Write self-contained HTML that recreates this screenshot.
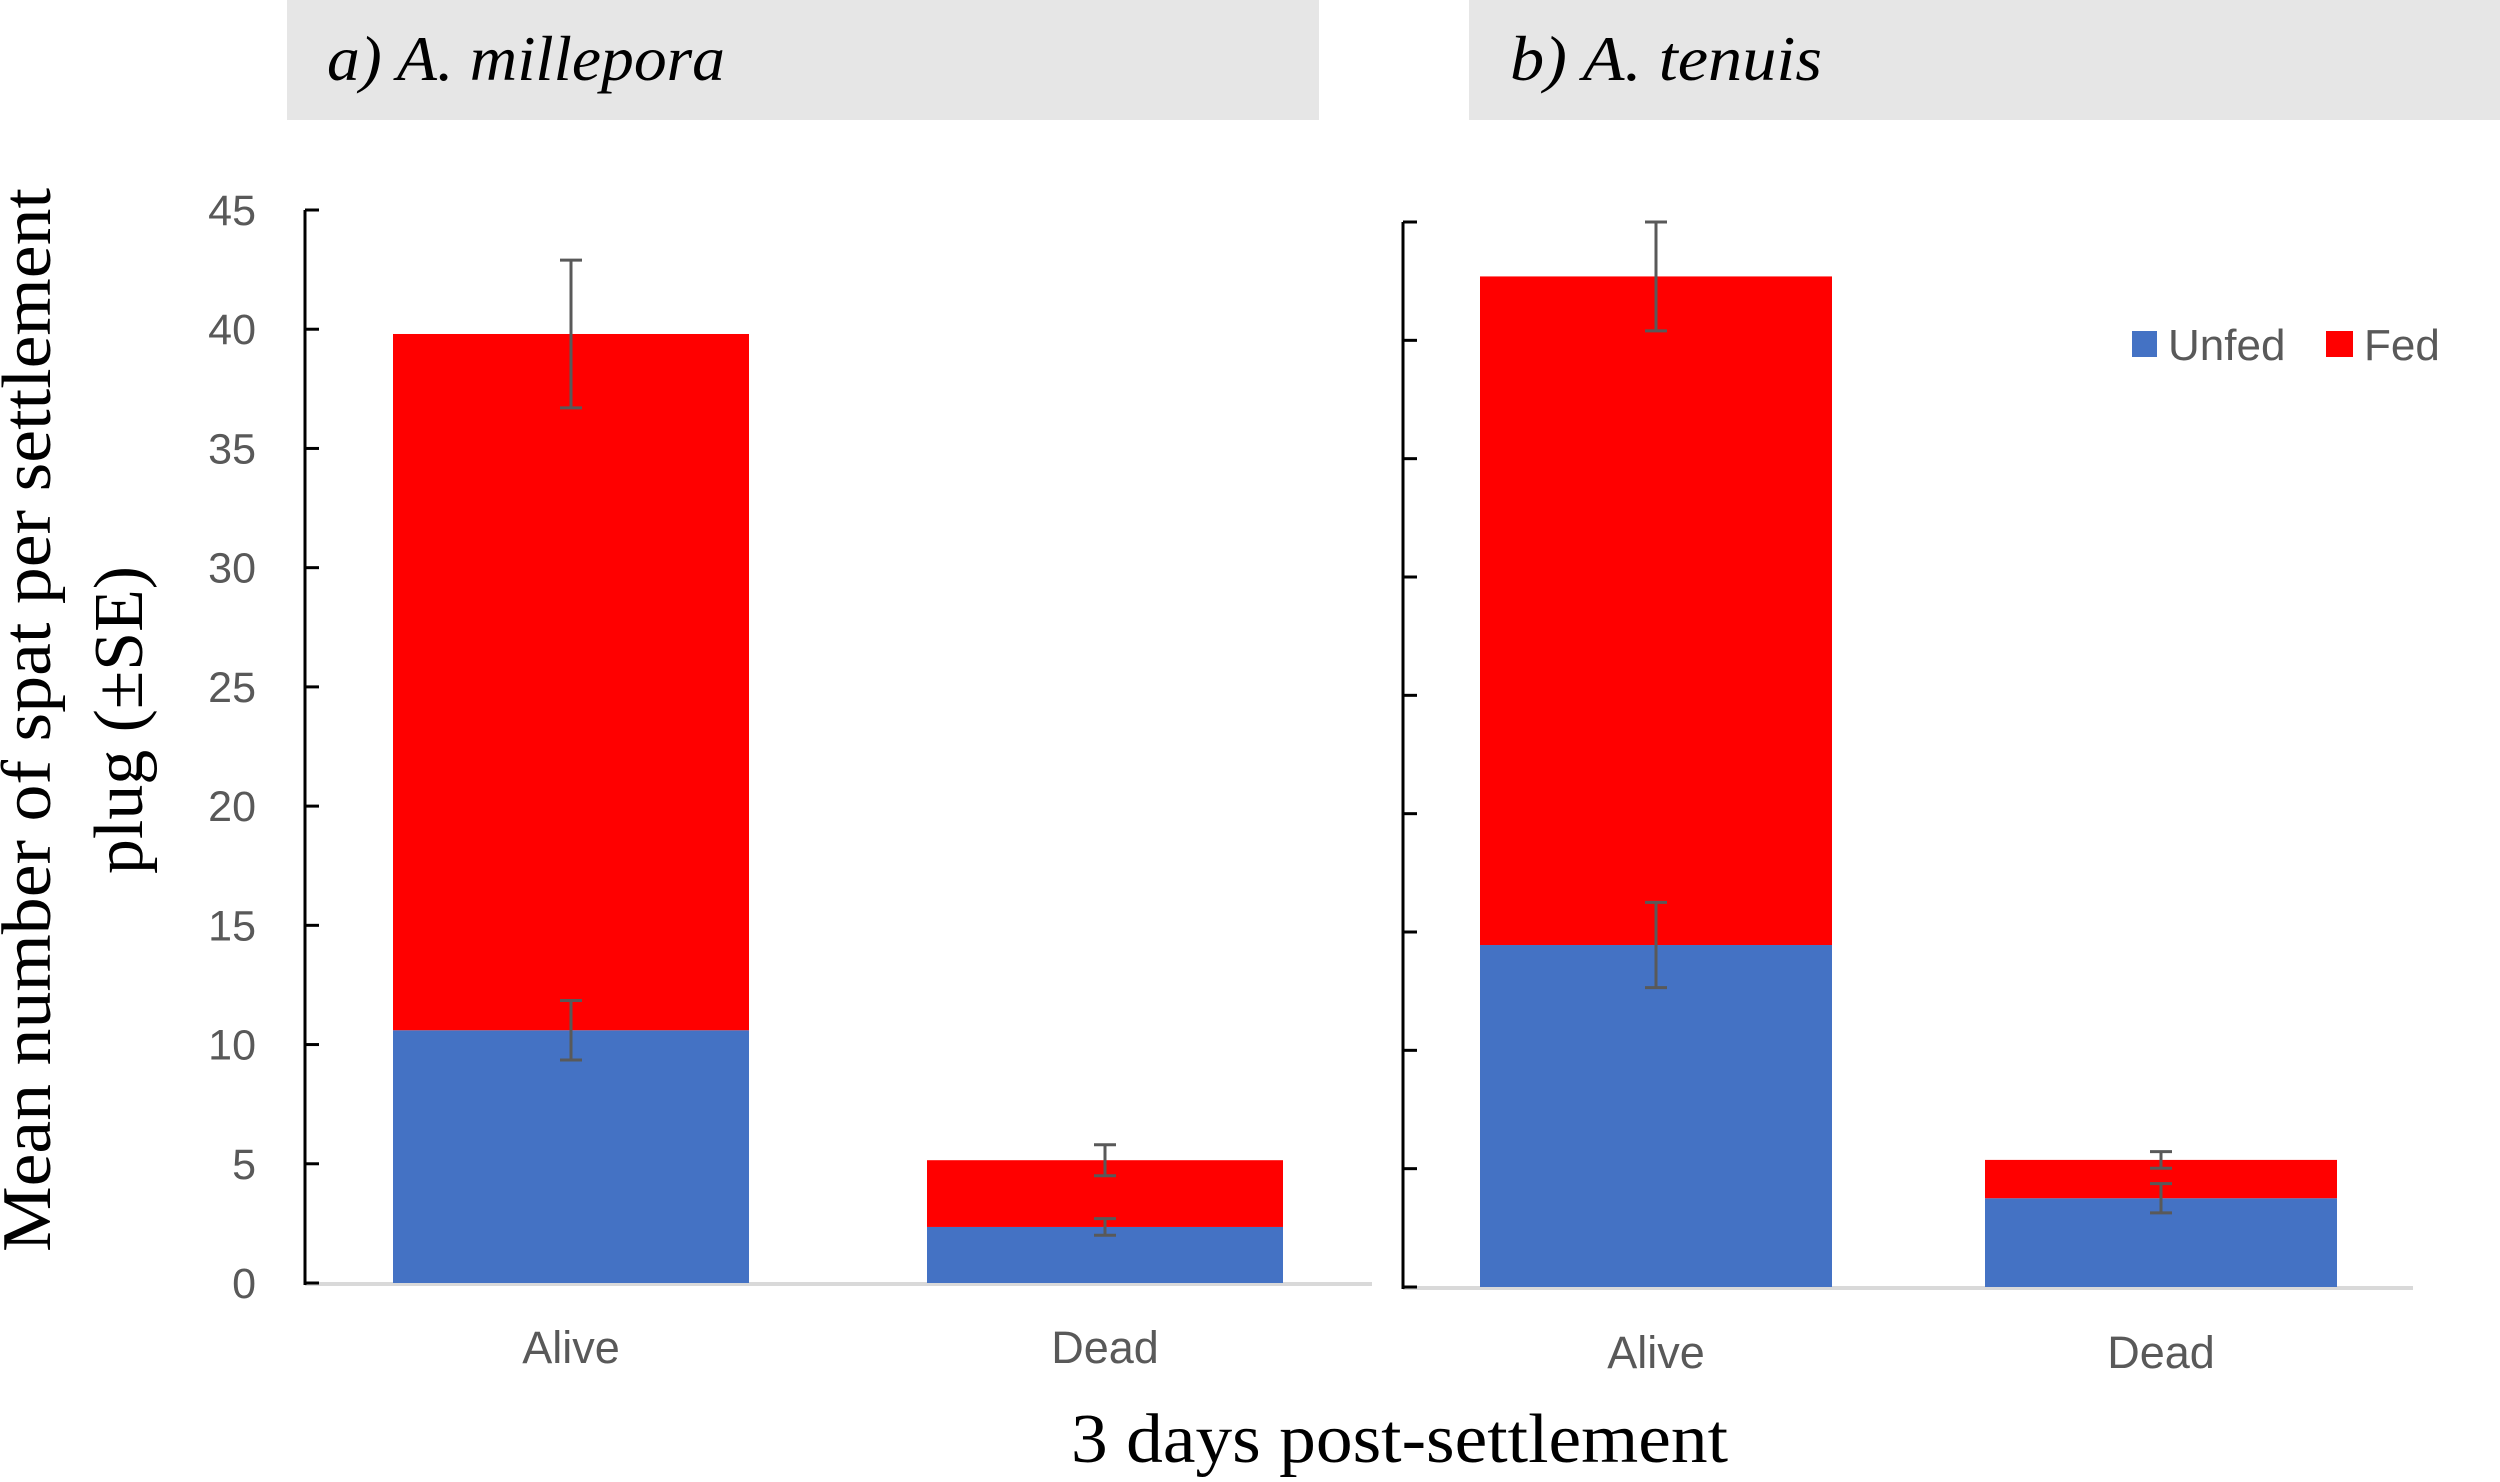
<!DOCTYPE html>
<html><head><meta charset="utf-8"><style>
html,body{margin:0;padding:0;background:#fff;}
svg{display:block;}
</style></head><body>
<svg id="chart" width="2500" height="1482" viewBox="0 0 2500 1482" xmlns="http://www.w3.org/2000/svg">
<rect x="287" y="0" width="1032" height="120" fill="#e6e6e6"/>
<text x="327" y="80" font-family="Liberation Serif, serif" font-style="italic" font-size="64" textLength="398" lengthAdjust="spacingAndGlyphs" fill="#000">a) A. millepora</text>
<rect x="1469" y="0" width="1031" height="120" fill="#e6e6e6"/>
<text x="1510" y="80" font-family="Liberation Serif, serif" font-style="italic" font-size="64" textLength="312" lengthAdjust="spacingAndGlyphs" fill="#000">b) A. tenuis</text>
<g font-family="Liberation Serif, serif" font-size="70" fill="#000">
<text transform="translate(50,720) rotate(-90)" text-anchor="middle" textLength="1064" lengthAdjust="spacingAndGlyphs">Mean number of spat per settlement</text>
<text transform="translate(142,720) rotate(-90)" text-anchor="middle" textLength="308" lengthAdjust="spacingAndGlyphs">plug (±SE)</text>
</g>
<text x="1071" y="1462" font-family="Liberation Serif, serif" font-size="70" textLength="657" lengthAdjust="spacingAndGlyphs" fill="#000">3 days post-settlement</text>
<g font-family="Liberation Sans, sans-serif" font-size="44" fill="#595959">
<rect x="2132" y="331" width="25" height="26" fill="#4472c4"/>
<text x="2168" y="360">Unfed</text>
<rect x="2326" y="331" width="27" height="26" fill="#ff0000"/>
<text x="2364" y="360">Fed</text>
</g>
<g id="plot"></g>
</svg>
<script>
const categories = ["Alive", "Dead"];
const yTicks = [0, 5, 10, 15, 20, 25, 30, 35, 40, 45];
const unfedA = [10.6, 2.35];
const fedA = [29.2, 2.8];
const unfedErrA = [1.25, 0.35];
const fedErrA = [3.1, 0.65];
const unfedB = [14.45, 3.75];
const fedB = [28.25, 1.62];
const unfedErrB = [1.8, 0.62];
const fedErrB = [2.3, 0.35];

const NS = "http://www.w3.org/2000/svg";
const plot = document.getElementById("plot");
function mk(tag, attrs, parent) {
  const e = document.createElementNS(NS, tag);
  for (const k in attrs) e.setAttribute(k, attrs[k]);
  (parent || plot).appendChild(e);
  return e;
}
function drawPanel(p, unfed, fed, uErr, fErr, showLabels) {
  const y = v => p.y0 - (v / 45) * (p.y0 - p.y45);
  const g = mk("g", {});
  
  
  const xl = mk("line", {x1: p.axX, x2: p.xEnd, y1: p.y0 + 1, y2: p.y0 + 1, stroke: "#d9d9d9", "stroke-width": 4}, g);
  
  
  const yl = mk("line", {x1: p.axX, x2: p.axX, y1: p.y45, y2: p.y0 + 2, stroke: "#000", "stroke-width": 3}, g);
  
  
  yTicks.forEach(t => {
    const tk = mk("line", {x1: p.axX, x2: p.axX + 14, y1: y(t), y2: y(t), stroke: "#000", "stroke-width": 3}, g);
    
    
    if (showLabels) {
      const tl = mk("text", {x: 256, y: y(t) + 15, "text-anchor": "end", "font-family": "Liberation Sans, sans-serif", "font-size": 43, fill: "#595959"}, g);
      tl.textContent = t;
      
      
    }
  });
  categories.forEach((c, i) => {
    const x = p.barX[i], w = p.barW;
    const cx = x + w / 2;
    const b1 = mk("rect", {x: x, y: y(unfed[i]), width: w, height: y(0) - y(unfed[i]), fill: "#4472c4"}, g);
    
    
    const tot = unfed[i] + fed[i];
    const b2 = mk("rect", {x: x, y: y(tot), width: w, height: y(unfed[i]) - y(tot), fill: "#ff0000"}, g);
    
    
    [[unfed[i], uErr[i], 'unfed'], [tot, fErr[i], 'fed']].forEach(([v, e, n]) => {
      const eg = mk("g", {stroke: "#595959", "stroke-width": 3}, g);
      
      
      mk("line", {x1: cx, x2: cx, y1: y(v + e), y2: y(v - e)}, eg);
      mk("line", {x1: cx - 11, x2: cx + 11, y1: y(v + e), y2: y(v + e)}, eg);
      mk("line", {x1: cx - 11, x2: cx + 11, y1: y(v - e), y2: y(v - e)}, eg);
    });
    const lb = mk("text", {x: cx, y: p.labY, "text-anchor": "middle", "font-family": "Liberation Sans, sans-serif", "font-size": 45, fill: "#595959"}, g);
    lb.textContent = c;
    
    
  });
}
drawPanel({id: "a", axX: 305, xEnd: 1372, y0: 1283, y45: 210, barX: [393, 927], barW: 356, labY: 1363}, unfedA, fedA, unfedErrA, fedErrA, true);
drawPanel({id: "b", axX: 1403, xEnd: 2413, y0: 1287, y45: 222, barX: [1480, 1985], barW: 352, labY: 1368}, unfedB, fedB, unfedErrB, fedErrB, false);
</script>
</body></html>
